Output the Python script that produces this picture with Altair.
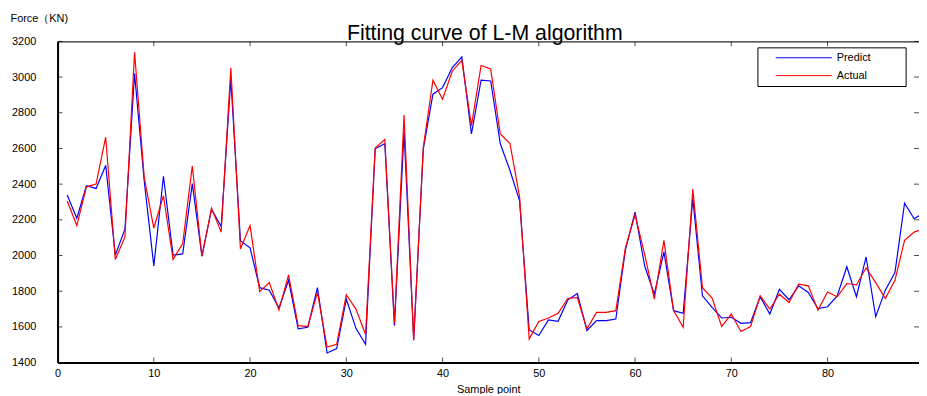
import altair as alt
import pandas as pd

title_text = "Fitting curve of L-M algorithm"
sample = list(range(1, 91))
predict = [2339, 2209, 2391, 2376, 2505, 2002, 2148, 3020, 2420, 1941,
           2444, 2002, 2009, 2403, 1996, 2260, 2163, 2990, 2083, 2043,
           1820, 1806, 1706, 1861, 1589, 1598, 1820, 1454, 1478, 1756,
           1592, 1502, 2598, 2626, 1607, 2694, 1533, 2598, 2904, 2941,
           3052, 3113, 2681, 2983, 2978, 2626, 2478, 2306, 1583, 1552,
           1639, 1631, 1750, 1787, 1580, 1635, 1635, 1644, 2033, 2243,
           1941, 1783, 2020, 1691, 1676, 2320, 1774, 1709, 1650, 1654,
           1620, 1624, 1769, 1672, 1811, 1752, 1830, 1793, 1702, 1713,
           1774, 1937, 1769, 1993, 1657, 1806, 1904, 2293, 2206, 2240]
actual = [2306, 2168, 2385, 2400, 2663, 1978, 2104, 3139, 2440, 2154,
          2335, 1978, 2067, 2502, 1996, 2265, 2131, 3052, 2037, 2168,
          1798, 1848, 1694, 1891, 1607, 1602, 1793, 1487, 1502, 1780,
          1700, 1557, 2602, 2650, 1620, 2787, 1524, 2607, 2983, 2876,
          3033, 3094, 2728, 3065, 3046, 2681, 2628, 2330, 1533, 1631,
          1650, 1676, 1759, 1765, 1589, 1681, 1681, 1691, 2043, 2228,
          2006, 1756, 2085, 1691, 1598, 2372, 1820, 1761, 1602, 1672,
          1574, 1602, 1774, 1700, 1783, 1737, 1839, 1830, 1694, 1796,
          1769, 1843, 1835, 1931, 1848, 1759, 1861, 2085, 2131, 2150]
series_names = ["Predict", "Actual"]
series_colors = ["#0000ff", "#ff0000"]
x_ticks = list(range(0, 100, 10))
y_ticks = list(range(1400, 3400, 200))

rows = []
for name, vals in zip(series_names, [predict, actual]):
    for s, v in zip(sample, vals):
        rows.append({"Sample": s, "Force": v, "Series": name})
df = pd.DataFrame(rows)
tick_x = pd.DataFrame({"t": x_ticks})
tick_y = pd.DataFrame({"t": y_ticks})

W, H = 869, 324
FONT = "Liberation Sans"
xscale = alt.Scale(domain=[0, 89.5], nice=False, zero=False)
yscale = alt.Scale(domain=[1400, 3200], nice=False, zero=False)

# legend frame (drawn beneath the legend entries)
legend_box = alt.Chart(pd.DataFrame({"k": [0]})).mark_rect(
    fill="white", stroke="black", strokeWidth=1
).encode(x=alt.value(706.5), x2=alt.value(856), y=alt.value(6.5), y2=alt.value(45.5))

lines = alt.Chart(df).mark_line(strokeWidth=1.2, clip=True).encode(
    x=alt.X("Sample:Q", scale=xscale,
            axis=alt.Axis(orient="bottom", values=x_ticks, labelFlush=False, ticks=False,
                          domainWidth=2, domainColor="black", labelPadding=5,
                          labelFontSize=11, labelColor="black", labelOverlap=False,
                          title="Sample point", titleFontSize=11, titleFontWeight="normal",
                          titleY=30, titleBaseline="alphabetic", titleColor="black", grid=False)),
    y=alt.Y("Force:Q", scale=yscale,
            axis=alt.Axis(values=y_ticks, format="d", ticks=False, domainWidth=2,
                          domainColor="black", labelPadding=22, labelFontSize=11,
                          labelColor="black",
                          title="Force（KN)", titleFontSize=11, titleFontWeight="normal",
                          titleAngle=0, titleX=-48, titleY=-20, titleAlign="left",
                          titleBaseline="alphabetic", titleColor="black", grid=False)),
    color=alt.Color("Series:N", sort=series_names,
                    scale=alt.Scale(domain=series_names, range=series_colors),
                    legend=alt.Legend(title=None, orient="none", legendX=713, legendY=6,
                                      padding=5,
                                      symbolType="M-1,0H10.3", symbolSize=100,
                                      symbolStrokeWidth=1, symbolOffset=6, labelOffset=51,
                                      labelFontSize=11, labelColor="black", rowPadding=6)),
)

top = alt.Chart(tick_x).mark_tick(size=5, thickness=1, color="black", clip=True).encode(
    x=alt.X("t:Q", scale=xscale,
            axis=alt.Axis(orient="top", labels=False, ticks=False, domainColor="black",
                          domainWidth=1, title=None, grid=False)),
    y=alt.value(2.5),
)
bottom = alt.Chart(tick_x).mark_tick(size=5, thickness=1, color="black", clip=True).encode(
    x=alt.X("t:Q", scale=xscale, axis=None),
    y=alt.value(H - 2.5),
)
left = alt.Chart(tick_y).mark_tick(size=5, thickness=1, color="black").encode(
    y=alt.Y("t:Q", scale=yscale, axis=None),
    x=alt.value(2.5),
)
right = alt.Chart(tick_y).mark_tick(size=5, thickness=1, color="black").encode(
    y=alt.Y("t:Q", scale=yscale, axis=None),
    x=alt.value(W - 2.5),
)
title = alt.Chart(pd.DataFrame({"label": [title_text]})).mark_text(
    font=FONT, fontSize=21.5, color="black", align="center", baseline="alphabetic"
).encode(text="label:N", x=alt.value(431), y=alt.value(-1))

chart = alt.layer(lines, top, bottom, left, right, legend_box, title).resolve_axis(
    x="independent", y="independent"
).properties(
    width=W, height=H,
    autosize=alt.AutoSizeParams(type="none"),
    padding={"left": 50, "top": 32, "right": 0, "bottom": 30},
).configure_view(stroke=None).configure(font=FONT)

chart.save("out.html", embed_options={"renderer": "svg", "actions": False})
